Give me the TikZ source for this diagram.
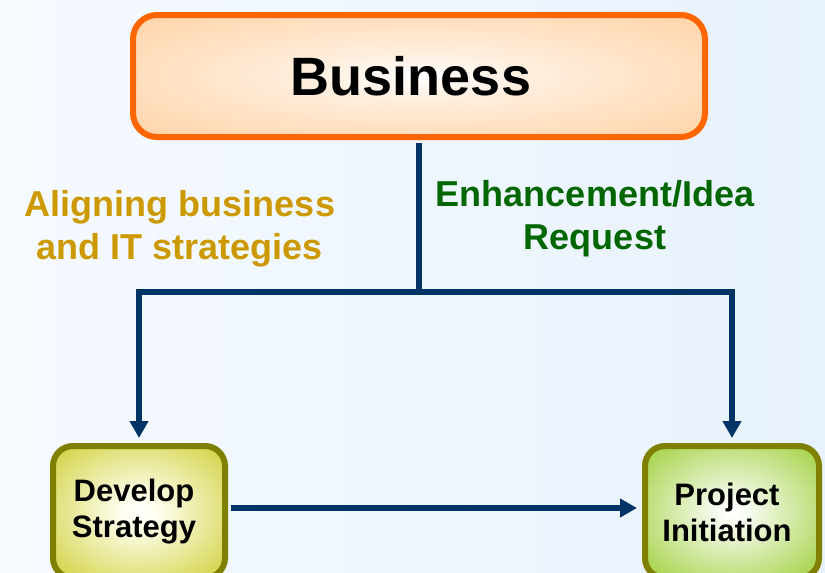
\documentclass[tikz,border=0pt]{standalone}
\usepackage{fontspec}
\setmainfont{Liberation Sans}
\usetikzlibrary{arrows.meta}
\definecolor{navy}{HTML}{003366}
\definecolor{orangeline}{HTML}{FF6600}
\definecolor{oliveline}{HTML}{7F8000}
\definecolor{goldtext}{HTML}{CC9900}
\definecolor{greentext}{HTML}{006600}
\definecolor{bgl}{HTML}{F5FAFF}
\definecolor{bgr}{HTML}{E8F2FC}
\definecolor{bizin}{HTML}{FFEEDD}
\definecolor{bizout}{HTML}{FFC891}
\definecolor{devin}{HTML}{FFFFF0}
\definecolor{devout}{HTML}{CCCC2E}
\definecolor{prjin}{HTML}{F6FBEE}
\definecolor{prjout}{HTML}{99CC2E}
\pgfdeclareradialshading{bizshade}{\pgfpoint{0bp}{0bp}}{color(0bp)=(white); color(10bp)=(bizin); color(46bp)=(bizout); color(100bp)=(bizout)}
\pgfdeclareradialshading{devshade}{\pgfpoint{0bp}{0bp}}{color(0bp)=(white); color(5bp)=(devin); color(38bp)=(devout); color(100bp)=(devout)}
\pgfdeclareradialshading{prjshade}{\pgfpoint{0bp}{0bp}}{color(0bp)=(white); color(5bp)=(prjin); color(38bp)=(prjout); color(100bp)=(prjout)}
\tikzset{
  bizbox/.style={draw=orangeline, line width=6pt, rounded corners=24pt,
    minimum width=572pt, minimum height=122pt, inner sep=0pt,
    shade, shading=bizshade, font=\bfseries\fontsize{54}{60}\selectfont},
  stagebox/.style={draw=oliveline, line width=6pt, rounded corners=20pt,
    minimum height=132pt, inner sep=0pt, align=center,
    font=\bfseries\fontsize{31}{36}\selectfont},
  goldlabel/.style={text=goldtext, align=center, inner sep=0pt,
    font=\bfseries\fontsize{36}{43}\selectfont},
  greenlabel/.style={text=greentext, align=center, inner sep=0pt,
    font=\bfseries\fontsize{36}{43}\selectfont},
  conn/.style={draw=navy, line width=5.5pt},
  tip/.style={-{Triangle[width=18pt,length=17pt]}}
}
\begin{document}
\begin{tikzpicture}[x=1pt,y=-1pt]
\useasboundingbox (0,0) rectangle (825,573);
\shade[left color=bgl, right color=bgr] (0,0) rectangle (825,573);

\node[bizbox] (business) at (419,76) {\kern-16pt Business};
\node[stagebox, shade, shading=devshade, minimum width=172pt] (develop) at (139,512) {\kern-10pt Develop\\\kern-10pt Strategy};
\node[stagebox, shade, shading=prjshade, minimum width=174pt] (project) at (732,512) {\kern-10pt Project\\\kern-10pt Initiation};

\node[goldlabel] (aligning) at (180,229) {Aligning business\\and IT strategies};
\node[greenlabel] (enhance) at (595,219) {Enhancement/Idea\\Request};

\coordinate (junction) at (419,292);
\draw[conn, shorten <=3pt] (business.south) -- (junction);
\draw[conn, tip, shorten >=5pt] (junction) -| (develop.north);
\draw[conn, tip, shorten >=5pt] (junction) -| (project.north);
\draw[conn, tip, shorten <=3pt, shorten >=5pt] ([yshift=4pt]develop.east) -- ([yshift=4pt]project.west);
\end{tikzpicture}
\end{document}
